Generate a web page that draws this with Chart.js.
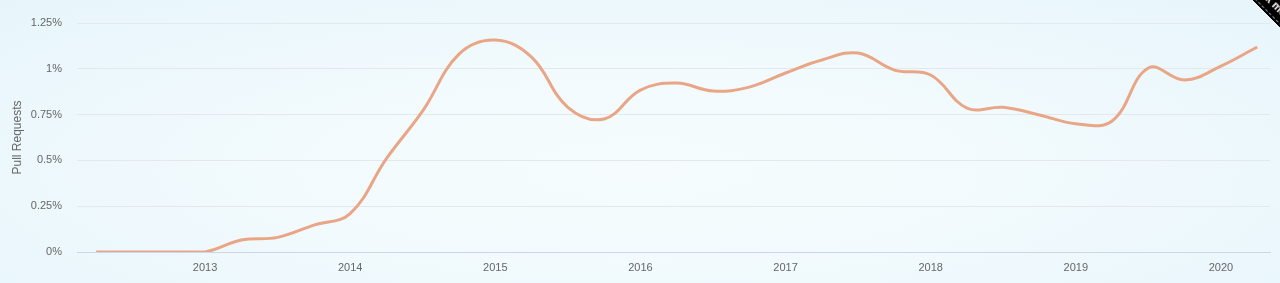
<!DOCTYPE html>
<html>
<head>
<meta charset="utf-8">
<script src="https://cdn.jsdelivr.net/npm/chart.js@4/dist/chart.umd.min.js"></script>
<style>
  html, body { margin: 0; padding: 0; width: 1280px; height: 283px; overflow: hidden; }
  body { position: relative; background: radial-gradient(ellipse at 50% 60%, #f6fcfe 0%, #f1fafd 45%, #e7f5fb 100%); font-family: "Liberation Sans", Arial, sans-serif; }
  #wrap { position: absolute; left: 0; top: 0; width: 1280px; height: 283px; }
  .ribbon { position: absolute; left: 1190px; top: 5.6px; width: 200px; height: 26px; background: #000; transform: rotate(45deg); transform-origin: 50% 50%; box-sizing: border-box; }
  .ribbon span { position: absolute; left: 0; right: 0; top: 2px; bottom: 2px; border-top: 1px dashed rgba(255,255,255,0.55); border-bottom: 1px dashed rgba(255,255,255,0.55); color: #fff; font: bold 11px "Liberation Sans", Arial, sans-serif; text-align: center; line-height: 20px; }
</style>
</head>
<body>
<div id="wrap"><canvas id="c" width="1280" height="283"></canvas></div>
<div class="ribbon"><span>Fork me on GitHub</span></div>
<script>
// Quarterly points (decimal year) and share of pull requests (%)
const quarters = [
  2012.25, 2012.5, 2012.75, 2013.0,
  2013.25, 2013.5, 2013.75, 2014.0,
  2014.25, 2014.5, 2014.75, 2015.0,
  2015.25, 2015.5, 2015.75, 2016.0,
  2016.25, 2016.5, 2016.75, 2017.0,
  2017.25, 2017.5, 2017.75, 2018.0,
  2018.25, 2018.5, 2018.75, 2019.0,
  2019.25, 2019.5, 2019.75, 2020.0,
  2020.25
];
const pullRequests = [
  0, 0, 0, 0,
  0.065, 0.08, 0.147, 0.21,
  0.51, 0.77, 1.08, 1.157,
  1.064, 0.79, 0.726, 0.884,
  0.922, 0.879, 0.90, 0.977,
  1.048, 1.086, 0.993, 0.966,
  0.786, 0.79, 0.748, 0.70,
  0.715, 1.004, 0.939, 1.015,
  1.119
];
const yearTicks = [2013, 2014, 2015, 2016, 2017, 2018, 2019, 2020];
const yTicks = [0, 0.25, 0.5, 0.75, 1, 1.25];
const yTitle = 'Pull Requests';

const points = quarters.map((q, i) => ({ x: q, y: pullRequests[i] }));

new Chart(document.getElementById('c'), {
  type: 'line',
  data: {
    datasets: [{
      data: points,
      borderColor: '#e9a686',
      borderWidth: 3,
      pointRadius: 0,
      tension: 0.4,
      fill: false
    }]
  },
  options: {
    responsive: false,
    animation: false,
    plugins: { legend: { display: false }, tooltip: { enabled: false } },
    layout: { padding: { top: 23, right: 10, left: 0, bottom: 0 } },
    scales: {
      x: {
        type: 'linear',
        min: 2012.118,
        max: 2020.338,
        afterBuildTicks: s => { s.ticks = yearTicks.map(v => ({ value: v })); },
        afterFit: s => { s.height = 31; },
        grid: { display: false, drawTicks: false },
        border: { display: true, color: '#ccd6eb', width: 1 },
        ticks: {
          padding: 9,
          color: '#666666',
          font: { size: 11, family: '"Liberation Sans", Arial, sans-serif' },
          maxRotation: 0,
          callback: v => String(v)
        }
      },
      y: {
        min: 0,
        max: 1.25,
        afterBuildTicks: s => { s.ticks = yTicks.map(v => ({ value: v })); },
        afterFit: s => { s.width = 77; },
        grid: { color: '#e3e8ec', lineWidth: 1, drawTicks: false },
        border: { display: false },
        ticks: {
          padding: 15,
          color: '#666666',
          font: { size: 11, family: '"Liberation Sans", Arial, sans-serif' },
          callback: v => Number(v.toFixed(2)) + '%'
        },
        title: {
          display: true,
          text: yTitle,
          color: '#666666',
          font: { size: 12, family: '"Liberation Sans", Arial, sans-serif' },
          padding: { top: 10, bottom: 0 }
        }
      }
    }
  }
});
</script>
</body>
</html>
